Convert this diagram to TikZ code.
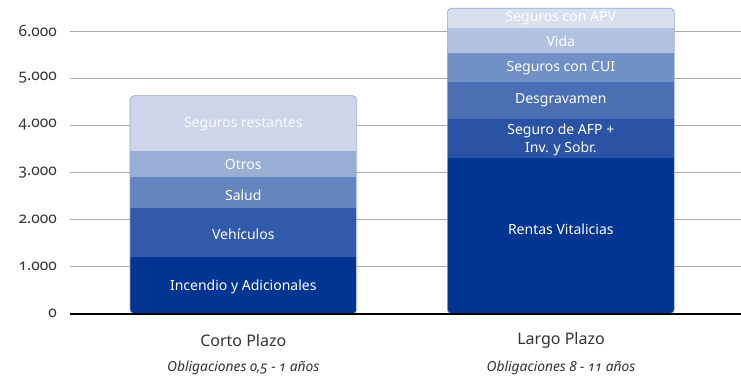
\documentclass[tikz,border=0pt]{standalone}
\usepackage{fontspec}
\setmainfont{Noto Sans}[Numbers=OldStyle]
\definecolor{cA}{HTML}{CCD6E8}
\definecolor{cB}{HTML}{98AED4}
\definecolor{cC}{HTML}{6585BF}
\definecolor{cD}{HTML}{315BAA}
\definecolor{cE}{HTML}{003591}
\definecolor{dA}{HTML}{D8DFEE}
\definecolor{dB}{HTML}{B1C2E0}
\definecolor{dC}{HTML}{7090C6}
\definecolor{dD}{HTML}{4C6FB4}
\definecolor{dE}{HTML}{2A53A5}
\definecolor{gridc}{HTML}{AAAAAA}
\definecolor{txt}{HTML}{333333}
\definecolor{edgec}{HTML}{8FA8D6}
\tikzset{
  grid line/.style={draw=gridc, line width=0.9pt},
  ticklab/.style={anchor=east, text=txt, font=\fontsize{15.5}{16}\selectfont, inner sep=0pt},
  seglab/.style={text=white, font=\fontsize{14}{18}\selectfont, align=center, inner sep=0pt},
  catlab/.style={text=txt, font=\fontsize{16}{18}\selectfont, inner sep=0pt},
  sublab/.style={text=txt, font=\fontsize{13.8}{18}\selectfont\itshape, inner sep=0pt},
}
\begin{document}
\begin{tikzpicture}[x=1pt,y=-1pt]
\useasboundingbox (0,0) rectangle (741,382);
% grid
\foreach \v/\yy in {6.000/31, 5.000/78, 4.000/125, 3.000/172.2, 2.000/219.3, 1.000/266.5}{
  \draw[grid line] (70,\yy) -- (741,\yy);
  \node[ticklab] at (57,\yy) {\v};
}
\node[ticklab] (t0) at (57,313.5) {0};
% bar 1
\begin{scope}
\clip[rounded corners=4pt] (130,95.7) rectangle (356.7,313.5);
\fill[cA] (130,95) rectangle (357,150.7);
\fill[cB] (130,150.7) rectangle (357,177);
\fill[cC] (130,177) rectangle (357,207.7);
\fill[cD] (130,207.7) rectangle (357,256.7);
\fill[cE] (130,256.7) rectangle (357,314);
\end{scope}
\draw[edgec, line width=0.6pt, rounded corners=4pt] (130,95.7) rectangle (356.7,313.5);
\node[seglab, text=white!92!cA] (l1a) at (243.3,124.3) {Seguros restantes};
\node[seglab] (l1b) at (243.3,164) {Otros};
\node[seglab] (l1c) at (243.3,195.7) {Salud};
\node[seglab] (l1d) at (243.3,234) {Vehículos};
\node[seglab] (l1e) at (243.3,286.7) {Incendio y Adicionales};
% bar 2
\begin{scope}
\clip[rounded corners=4pt] (447.3,8.3) rectangle (674.3,313.5);
\fill[dA] (447,8) rectangle (675,28);
\fill[dB] (447,28) rectangle (675,52.7);
\fill[dC] (447,52.7) rectangle (675,81.7);
\fill[dD] (447,81.7) rectangle (675,118.7);
\fill[dE] (447,118.7) rectangle (675,157.7);
\fill[cE] (447,157.7) rectangle (675,314);
\end{scope}
\draw[edgec, line width=0.6pt, rounded corners=4pt] (447.3,8.3) rectangle (674.3,313.5);
\node[seglab] (l2a) at (560.8,18.3) {Seguros con APV};
\node[seglab] (l2b) at (560.8,41) {Vida};
\node[seglab] (l2c) at (560.8,68.3) {Seguros con CUI};
\node[seglab] (l2d) at (560.8,100) {Desgravamen};
\node[seglab] (l2e) at (560.8,139.5) {Seguro de AFP +\\Inv. y Sobr.};
\node[seglab] (l2f) at (560.8,229) {Rentas Vitalicias};
% axis
\draw[black, line width=2pt] (70,314) -- (741,314);
% categories
\node[catlab] (c1) at (243.3,340) {Corto Plazo};
\node[sublab] (s1) at (243.3,368) {Obligaciones 0,5 - 1 años};
\node[catlab] (c2) at (561,340) {Largo Plazo};
\node[sublab] (s2) at (561,368) {Obligaciones 8 - 11 años};
\end{tikzpicture}
\end{document}
